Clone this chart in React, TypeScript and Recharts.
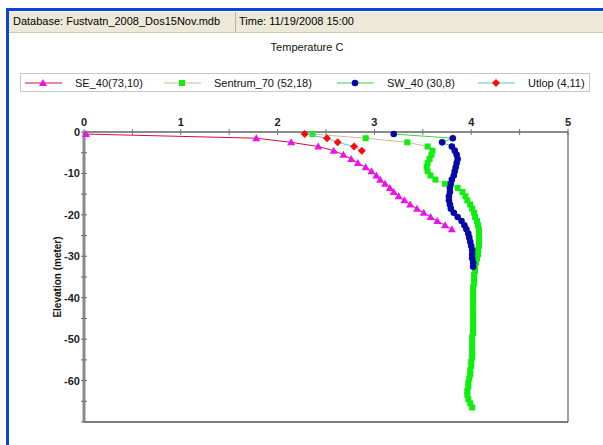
import React from "react";
import {
  ScatterChart,
  Scatter,
  XAxis,
  YAxis,
  ReferenceLine,
} from "recharts";

// depth grid of the profiles (m), 1 m apart
const depthM = [
  -0.5, -1.5, -2.5, -3.5, -4.5, -5.5, -6.5, -7.5, -8.5, -9.5,
  -10.5, -11.5, -12.5, -13.5, -14.5, -15.5, -16.5, -17.5, -18.5, -19.5,
  -20.5, -21.5, -22.5, -23.5, -24.5, -25.5, -26.5, -27.5, -28.5, -29.5,
  -30.5, -31.5, -32.5, -33.5, -34.5, -35.5, -36.5, -37.5, -38.5, -39.5,
  -40.5, -41.5, -42.5, -43.5, -44.5, -45.5, -46.5, -47.5, -48.5, -49.5,
  -50.5, -51.5, -52.5, -53.5, -54.5, -55.5, -56.5, -57.5, -58.5, -59.5,
  -60.5, -61.5, -62.5, -63.5, -64.5, -65.5, -66.5,
];

const se40Temp = [
  0.02, 1.78, 2.14, 2.42, 2.58, 2.68, 2.76, 2.83, 2.91, 2.97,
  3.02, 3.06, 3.11, 3.16, 3.2, 3.25, 3.31, 3.37, 3.44, 3.51,
  3.58, 3.65, 3.73, 3.8,
];

const sentrum70Temp = [
  2.36, 2.91, 3.34, 3.55, 3.6, 3.59, 3.57, 3.55, 3.54, 3.55,
  3.58, 3.63, 3.73, 3.86, 3.91, 3.94, 3.96, 3.99, 4.01, 4.03,
  4.04, 4.06, 4.07, 4.08, 4.08, 4.08, 4.08, 4.08, 4.07, 4.07,
  4.06, 4.05, 4.04, 4.04, 4.03, 4.03, 4.03, 4.02, 4.02, 4.02,
  4.02, 4.02, 4.02, 4.02, 4.02, 4.02, 4.02, 4.02, 4.02, 4.01,
  4.01, 4.01, 4.01, 4.01, 4.01, 4.0, 4.0, 3.99, 3.99, 3.98,
  3.97, 3.97, 3.96, 3.96, 3.97, 3.99, 4.01,
];

const sw40Temp = [
  3.2, 3.81, 3.7, 3.8, 3.83, 3.85, 3.86, 3.85, 3.84, 3.83,
  3.82, 3.8, 3.79, 3.78, 3.78, 3.77, 3.77, 3.78, 3.79, 3.82,
  3.86, 3.9, 3.93, 3.95, 3.97, 3.98, 3.99, 4.0, 4.01, 4.01,
  4.01, 4.02, 4.02,
];

const utlopTemp = [2.28, 2.51, 2.62, 2.79, 2.87];

const tempTicks = [0, 0.5, 1, 1.5, 2, 2.5, 3, 3.5, 4, 4.5, 5];
const elevTicks = [0, -5, -10, -15, -20, -25, -30, -35, -40, -45, -50, -55, -60, -65, -70];

const toPoints = (temps: number[]) =>
  temps.map((t, i) => ({ temp: t, elev: depthM[i] }));

const font = "'Liberation Sans', Arial, sans-serif";

const Triangle = ({ cx, cy, fill }: any) => (
  <polygon points={`${cx},${cy - 4} ${cx + 4},${cy + 3} ${cx - 4},${cy + 3}`} fill={fill} />
);
const Square = ({ cx, cy, fill }: any) => (
  <rect x={cx - 3} y={cy - 3} width={6} height={6} fill={fill} />
);
const Dot = ({ cx, cy, fill }: any) => <circle cx={cx} cy={cy} r={3.3} fill={fill} />;
const Diamond = ({ cx, cy, fill }: any) => (
  <polygon points={`${cx},${cy - 4} ${cx + 4},${cy} ${cx},${cy + 4} ${cx - 4},${cy}`} fill={fill} />
);

const series = [
  { name: "SE_40(73,10)", temps: se40Temp, line: "#cc1040", marker: "#ee10ee", Shape: Triangle },
  { name: "Sentrum_70 (52,18)", temps: sentrum70Temp, line: "#d2b896", marker: "#10ee10", Shape: Square },
  { name: "SW_40 (30,8)", temps: sw40Temp, line: "#40d040", marker: "#0808a8", Shape: Dot },
  { name: "Utlop (4,11)", temps: utlopTemp, line: "#50c8d0", marker: "#ff0a0a", Shape: Diamond },
];

const TempTick = (props: any) => {
  const { x, y, payload } = props;
  const v = payload.value;
  return (
    <g>
      <line x1={x} x2={x} y1={y - 3} y2={y + 3} stroke="#707070" />
      {Number.isInteger(v) && (
        <text x={x} y={y - 6} textAnchor="middle" fontSize={11} fontWeight="bold" fontFamily={font} fill="#222">
          {v}
        </text>
      )}
    </g>
  );
};

const ElevTick = (props: any) => {
  const { x, y, payload } = props;
  const v = payload.value;
  const labelled = v % 10 === 0 && v !== -70;
  return (
    <g>
      <line x1={x - 3} x2={x + 3} y1={y} y2={y} stroke="#707070" />
      {labelled && (
        <text x={x - 4} y={y + 4} textAnchor="end" fontSize={11} fontWeight="bold" fontFamily={font} fill="#222">
          {v}
        </text>
      )}
    </g>
  );
};

const LegendBox = () => (
  <div
    style={{
      position: "absolute",
      left: 20,
      top: 73,
      width: 570,
      height: 19,
      border: "1px solid #c8c8c8",
      boxSizing: "border-box",
      fontFamily: font,
      fontSize: 11,
      color: "#111",
    }}
  >
    {series.map((s, i) => {
      const left = [4, 143, 316, 457][i];
      const S = s.Shape;
      return (
        <div key={s.name} style={{ position: "absolute", left, top: 0, height: 17, display: "flex", alignItems: "center" }}>
          <svg width={38} height={16}>
            <line x1={0} x2={37} y1={8} y2={8} stroke={s.line} />
            <S cx={18} cy={8} fill={s.marker} />
          </svg>
          <span style={{ marginLeft: 12, whiteSpace: "nowrap" }}>{s.name}</span>
        </div>
      );
    })}
  </div>
);

export default function App() {
  return (
    <div style={{ position: "fixed", left: 0, top: 0, width: 603, height: 445, background: "#fff", overflow: "hidden" }}>
      {/* window frame */}
      <div style={{ position: "absolute", left: 6, top: 8, right: 0, height: 3, background: "#0b44d8" }} />
      <div style={{ position: "absolute", left: 6, top: 8, width: 3, bottom: 0, background: "#0b44d8" }} />
      {/* header bar */}
      <div
        style={{
          position: "absolute",
          left: 9,
          top: 11,
          right: 0,
          height: 20,
          background: "#ece9d8",
          borderTop: "1px solid #f8f8f0",
          borderBottom: "1px solid #d0ccb8",
          fontFamily: font,
          fontSize: 11,
          color: "#000",
        }}
      >
        <span style={{ position: "absolute", left: 4, top: 3 }}>Database: Fustvatn_2008_Dos15Nov.mdb</span>
        <div style={{ position: "absolute", left: 226, top: 0, width: 1, height: 20, background: "#b8b4a0" }} />
        <span style={{ position: "absolute", left: 230, top: 3 }}>Time: 11/19/2008 15:00</span>
      </div>
      <div
        style={{
          position: "absolute",
          left: 0,
          width: 614,
          top: 41,
          textAlign: "center",
          fontFamily: font,
          fontSize: 11,
          color: "#111",
        }}
      >
        Temperature C
      </div>
      <LegendBox />
      <div style={{ position: "absolute", left: 0, top: 0 }}>
        <ScatterChart width={603} height={445} margin={{ top: 112, right: 35, bottom: 23, left: 44 }}>
          <XAxis
            type="number"
            dataKey="temp"
            orientation="top"
            domain={[0, 5]}
            ticks={tempTicks}
            interval={0}
            height={20}
            tickSize={0}
            tickMargin={0}
            tick={<TempTick />}
            axisLine={{ stroke: "#8a8a8a", strokeWidth: 2 }}
          />
          <YAxis
            type="number"
            dataKey="elev"
            domain={[-70, 0]}
            ticks={elevTicks}
            interval={0}
            width={40}
            tickSize={0}
            tickMargin={0}
            tick={<ElevTick />}
            axisLine={{ stroke: "#8a8a8a", strokeWidth: 3 }}
            label={{
              value: "Elevation (meter)",
              angle: -90,
              position: "insideLeft",
              offset: 13,
              style: { fontSize: 10, fontWeight: "bold", fontFamily: font, fill: "#111", textAnchor: "middle" },
            }}
          />
          <ReferenceLine x={5} stroke="#404040" />
          <ReferenceLine y={-70} stroke="#505050" strokeWidth={1.5} />
          {series.map((s) => (
            <Scatter
              key={s.name}
              name={s.name}
              data={toPoints(s.temps)}
              fill={s.marker}
              line={{ stroke: s.line, strokeWidth: 1 }}
              lineType="joint"
              shape={<s.Shape fill={s.marker} />}
              isAnimationActive={false}
            />
          ))}
        </ScatterChart>
      </div>
    </div>
  );
}
